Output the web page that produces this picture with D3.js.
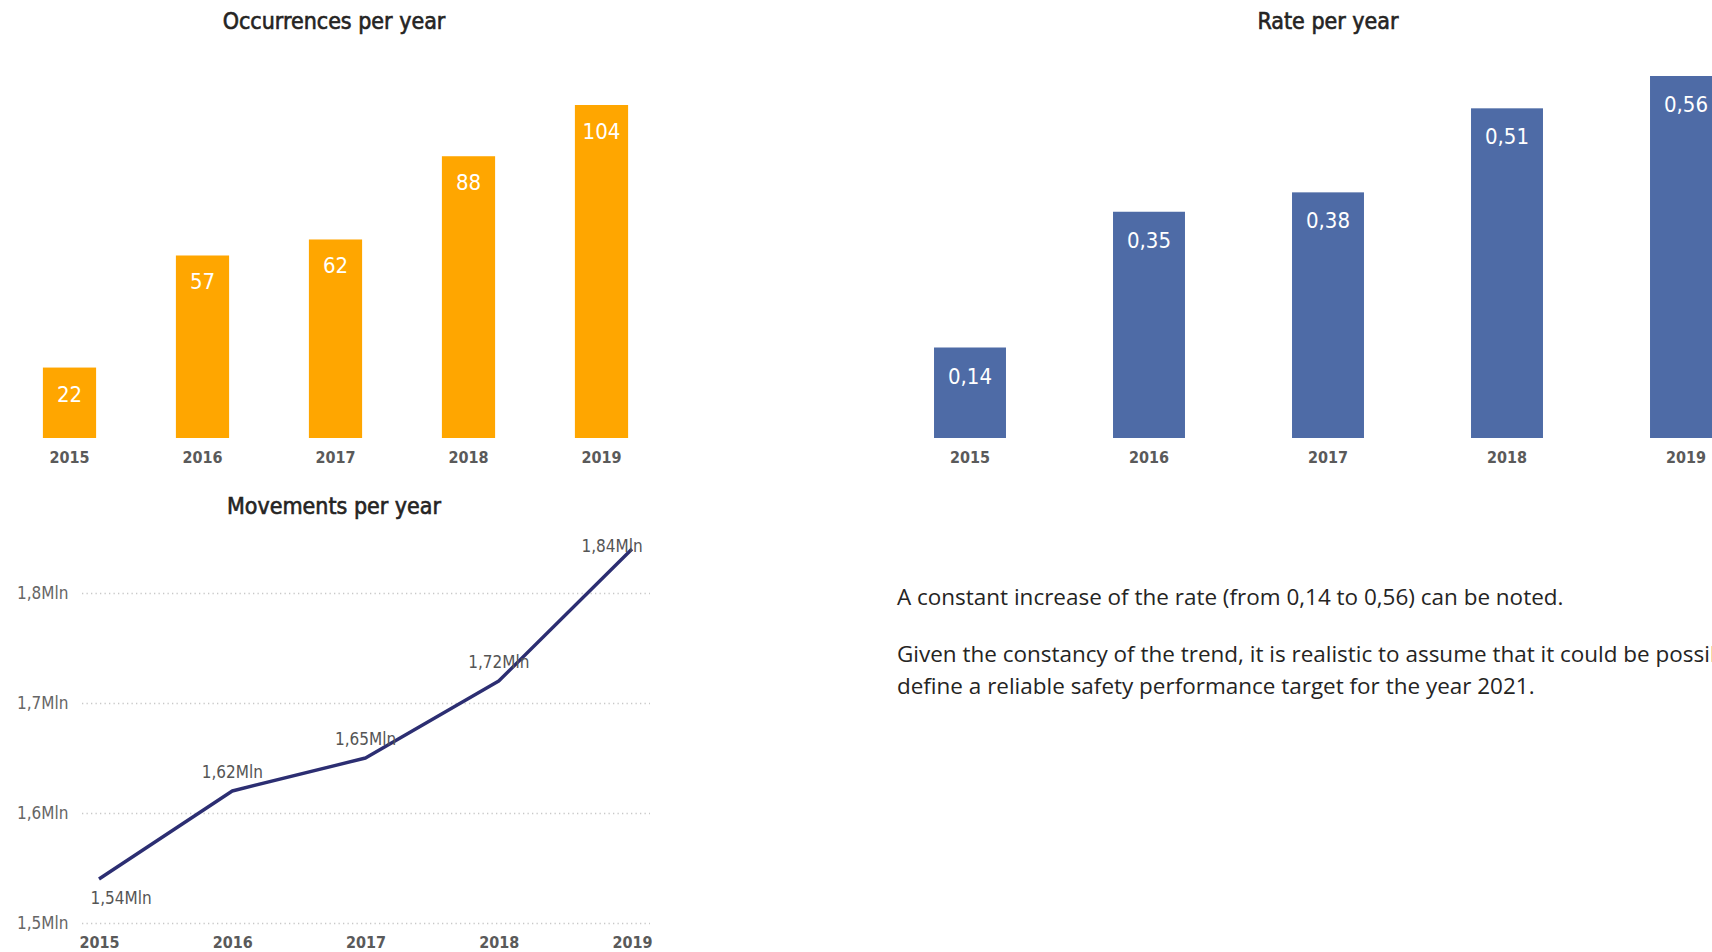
<!DOCTYPE html>
<html>
<head>
<meta charset="utf-8">
<script src="https://cdn.jsdelivr.net/npm/d3@7"></script>
<style>
  html, body { margin: 0; padding: 0; background: #fff; overflow: hidden; }
  svg { display: block; }
  .title { font-family: "DejaVu Sans Condensed", "DejaVu Sans", sans-serif; font-weight: normal; fill: #252423; stroke: #252423; stroke-width: 0.6px; }
  .year { font-family: "DejaVu Sans Condensed", "DejaVu Sans", sans-serif; font-weight: bold; fill: #5a5a5a; }
  .val { font-family: "DejaVu Sans Condensed", "DejaVu Sans", sans-serif; fill: #fff; }
  .axis-lbl { font-family: "DejaVu Sans Condensed", "DejaVu Sans", sans-serif; fill: #666; }
  .pt-lbl { font-family: "DejaVu Sans Condensed", "DejaVu Sans", sans-serif; fill: #555; }
  .note { font-family: "Open Sans", "Noto Sans", sans-serif; fill: #252423; }
</style>
</head>
<body>
<svg id="chart" width="1712" height="952"></svg>
<script>
// Data
const years = ["2015", "2016", "2017", "2018", "2019"];
const occurrences = [22, 57, 62, 88, 104];
const rates = [0.14, 0.35, 0.38, 0.51, 0.56];
const movements = [1.54, 1.62, 1.65, 1.72, 1.84]; // millions
const movementTicks = [1.5, 1.6, 1.7, 1.8];
const noteLines = [
  "A constant increase of the rate (from 0,14 to 0,56) can be noted.",
  "Given the constancy of the trend, it is realistic to assume that it could be possible to",
  "define a reliable safety performance target for the year 2021."
];

const svg = d3.select("#chart");
const comma = (v, d) => d3.format("." + d + "f")(v).replace(".", ",");

// ---------- Occurrences per year ----------
{
  const g = svg.append("g");
  const x = d3.scaleBand().domain(years).range([3, 668]).paddingInner(0.6).paddingOuter(0.3);
  const y = d3.scaleLinear().domain([0, 104]).range([438, 105]);

  g.append("text").attr("class", "title").attr("x", 334).attr("y", 29)
    .attr("text-anchor", "middle").style("font-size", "23px").text("Occurrences per year");

  g.selectAll("rect").data(occurrences).join("rect")
    .attr("x", (d, i) => x(years[i])).attr("width", x.bandwidth())
    .attr("y", d => y(d)).attr("height", d => y(0) - y(d))
    .attr("fill", "#FFA600");

  g.selectAll(".val").data(occurrences).join("text").attr("class", "val")
    .attr("x", (d, i) => x(years[i]) + x.bandwidth() / 2)
    .attr("y", d => y(d) + 34).attr("text-anchor", "middle")
    .style("font-size", "22px").text(d => d);

  const ax = g.append("g").attr("transform", "translate(0,438)")
    .call(d3.axisBottom(x).tickSize(0).tickPadding(0));
  ax.select(".domain").remove();
  ax.selectAll("text").attr("class", "year").attr("dy", null).attr("y", 25).style("font-size", "16px");
}

// ---------- Rate per year ----------
{
  const g = svg.append("g");
  const x = d3.scaleBand().domain(years).range([880.5, 1775.5]).paddingInner(0.598).paddingOuter(0.299);
  const y = d3.scaleLinear().domain([0, 0.56]).range([438, 76]);

  g.append("text").attr("class", "title").attr("x", 1328).attr("y", 29)
    .attr("text-anchor", "middle").style("font-size", "23px").text("Rate per year");

  g.selectAll("rect").data(rates).join("rect")
    .attr("x", (d, i) => x(years[i])).attr("width", x.bandwidth())
    .attr("y", d => y(d)).attr("height", d => y(0) - y(d))
    .attr("fill", "#4E6BA6");

  g.selectAll(".val").data(rates).join("text").attr("class", "val")
    .attr("x", (d, i) => x(years[i]) + x.bandwidth() / 2)
    .attr("y", d => y(d) + 36).attr("text-anchor", "middle")
    .style("font-size", "22px").text(d => comma(d, 2));

  const ax = g.append("g").attr("transform", "translate(0,438)")
    .call(d3.axisBottom(x).tickSize(0).tickPadding(0));
  ax.select(".domain").remove();
  ax.selectAll("text").attr("class", "year").attr("dy", null).attr("y", 25).style("font-size", "16px");
}

// ---------- Movements per year ----------
{
  const g = svg.append("g");
  const x = d3.scalePoint().domain(years).range([99, 632]);
  const y = d3.scaleLinear().domain([1.5, 1.8]).range([923, 593]);

  g.append("text").attr("class", "title").attr("x", 334).attr("y", 514)
    .attr("text-anchor", "middle").style("font-size", "23px").text("Movements per year");

  // dotted gridlines + tick labels
  const yAx = g.append("g")
    .call(d3.axisLeft(y).tickValues(movementTicks).tickSize(0).tickFormat(d => comma(d, 1) + "Mln"));
  yAx.select(".domain").remove();
  yAx.selectAll(".tick text").attr("class", "axis-lbl").attr("x", 17).attr("text-anchor", "start")
    .attr("dy", "0.35em").style("font-size", "17px");
  yAx.selectAll(".tick").append("line")
    .attr("x1", 82).attr("x2", 650)
    .attr("stroke", "#c8c8c8").attr("stroke-width", 1.3).attr("stroke-dasharray", "1.3,3.2");

  const xAx = g.append("g").attr("transform", "translate(0,923)")
    .call(d3.axisBottom(x).tickSize(0).tickPadding(0));
  xAx.select(".domain").remove();
  xAx.selectAll("text").attr("class", "year").attr("dy", null).attr("y", 25).style("font-size", "16px");

  const line = d3.line().x((d, i) => x(years[i])).y(d => y(d));
  g.append("path").datum(movements)
    .attr("d", line).attr("fill", "none")
    .attr("stroke", "#2C2E72").attr("stroke-width", 3.4)
    .attr("stroke-linejoin", "round");

  // point labels: first below the line, last pulled inside the plot, others above
  g.selectAll(".pt-lbl").data(movements).join("text").attr("class", "pt-lbl")
    .attr("x", (d, i) => x(years[i]) + (i === 0 ? 22 : i === movements.length - 1 ? -20 : 0))
    .attr("y", (d, i) => y(d) + (i === 0 ? 25 : i === movements.length - 1 ? 3 : -13))
    .attr("text-anchor", "middle").style("font-size", "17px")
    .text(d => comma(d, 2) + "Mln");
}

// ---------- Commentary ----------
{
  const g = svg.append("g");
  const lineY = [605, 662, 694];
  g.selectAll("text").data(noteLines).join("text").attr("class", "note")
    .attr("x", 897).attr("y", (d, i) => lineY[i])
    .style("font-size", "20px").text(d => d);
  // fit the font so the first sentence spans its column width
  const first = g.select("text").node();
  const w = first.getComputedTextLength();
  const fs = 20 * 667 / w;
  g.selectAll("text").style("font-size", fs + "px");
}
</script>
</body>
</html>
